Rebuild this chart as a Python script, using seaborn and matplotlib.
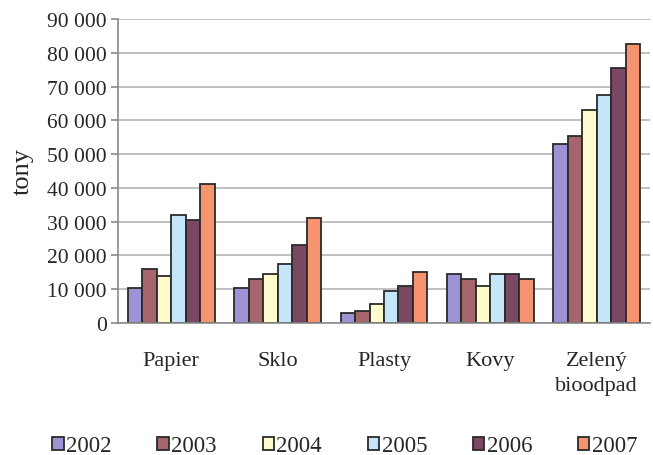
import matplotlib
matplotlib.use("Agg")
import matplotlib.pyplot as plt
import seaborn as sns
import pandas as pd
from matplotlib.ticker import FuncFormatter, FixedLocator

categories = ["Papier", "Sklo", "Plasty", "Kovy", "Zelený\nbioodpad"]
years = ["2002", "2003", "2004", "2005", "2006", "2007"]
v2002 = [10500, 10500, 3000, 14500, 53000]
v2003 = [16000, 13000, 3500, 13000, 55500]
v2004 = [14000, 14500, 5500, 11000, 63000]
v2005 = [32000, 17500, 9500, 14500, 67500]
v2006 = [30500, 23000, 11000, 14500, 75500]
v2007 = [41000, 31000, 15000, 13000, 82500]
colors = ["#9b93d3", "#a4666c", "#fffbcc", "#c5e6f8", "#7a4862", "#f79470"]

series = [v2002, v2003, v2004, v2005, v2006, v2007]
rows = []
for y, vals in zip(years, series):
    for c, v in zip(categories, vals):
        rows.append({"kat": c, "rok": y, "tony": v})
df = pd.DataFrame(rows)

sns.set_style("white")
plt.rcParams["font.family"] = ["Liberation Serif", "DejaVu Serif"]

fig = plt.figure(figsize=(6.53, 4.56), dpi=100)
ax = fig.add_axes([0.1807, 0.2895, 0.8147, 0.6667])
sns.barplot(data=df, x="kat", y="tony", hue="rok", palette=colors,
            order=categories, hue_order=years, width=0.815, saturation=1,
            edgecolor="#2a2a2a", linewidth=1.3, ax=ax, legend=True)

ax.set_ylim(0, 90000)
ax.set_xlim(-0.5, 4.5)
ax.yaxis.set_major_locator(FixedLocator(range(0, 90001, 10000)))
ax.yaxis.set_major_formatter(FuncFormatter(lambda v, p: f"{int(v):,}".replace(",", " ")))
ax.grid(axis="y", color="#b5b5b5", linewidth=1.2)
ax.set_axisbelow(True)
for s in ["top", "right"]:
    ax.spines[s].set_visible(False)
for s in ["left", "bottom"]:
    ax.spines[s].set_color("#8a8a8a")
    ax.spines[s].set_linewidth(1.2)

ax.set_xticks(range(len(categories)))
ax.set_xticklabels(categories, fontsize=16, linespacing=1.45)
ax.set_xticks([-0.5, 0.5, 1.5, 2.5, 3.5, 4.5], minor=True)
ax.tick_params(axis="x", which="major", length=0, pad=20)
ax.tick_params(axis="x", which="minor", length=5, width=1.2, color="#8a8a8a", direction="out")
ax.tick_params(axis="y", length=5, width=1.2, color="#8a8a8a", labelsize=15.5, left=True, pad=3)
ax.set_xlabel("")
ax.set_ylabel("tony", fontsize=19)
ax.yaxis.set_label_coords(-0.158, 0.5)

handles, labels = ax.get_legend_handles_labels()
ax.legend_.remove()
fig.legend(handles, labels, loc="lower center", ncol=6, frameon=False,
           bbox_to_anchor=(0.528, -0.028), fontsize=16.5, handlelength=0.5,
           handleheight=0.5, handletextpad=0.1, columnspacing=2.0, borderpad=0)

fig.savefig("out.png", dpi=100)
